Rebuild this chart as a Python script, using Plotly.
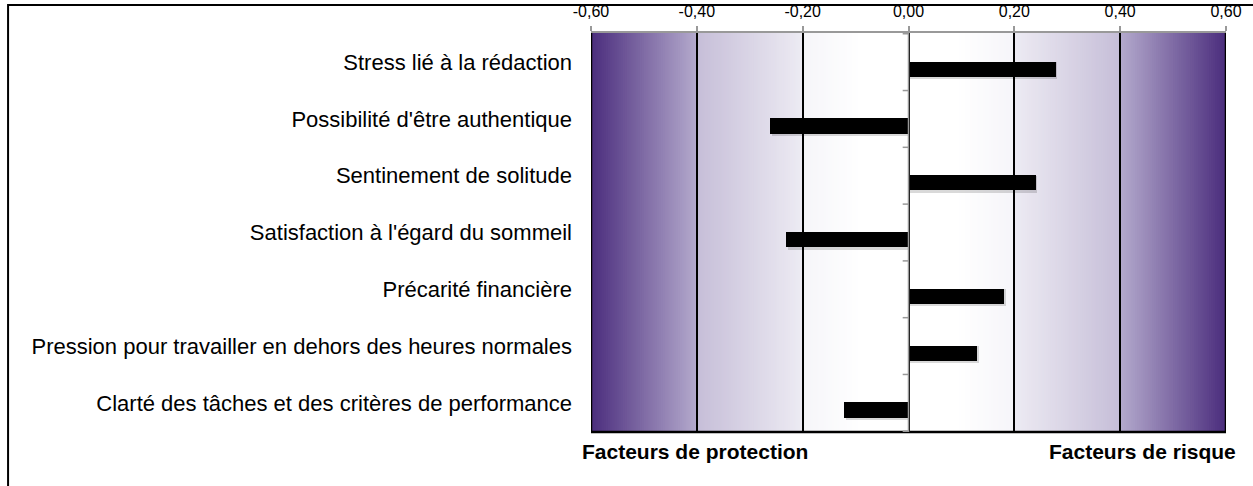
import plotly.graph_objects as go

categories = [
    "Stress lié à la rédaction",
    "Possibilité d'être authentique",
    "Sentinement de solitude",
    "Satisfaction à l'égard du sommeil",
    "Précarité financière",
    "Pression pour travailler en dehors des heures normales",
    "Clarté des tâches et des critères de performance",
]
values = [0.278, -0.261, 0.240, -0.231, 0.181, 0.130, -0.121]
tick_vals = [-0.6, -0.4, -0.2, 0.0, 0.2, 0.4, 0.6]
tick_text = [("%.2f" % v).replace(".", ",") for v in tick_vals]
left_label = "Facteurs de protection"
right_label = "Facteurs de risque"

FONT = "Liberation Sans"

fig = go.Figure()

# soft shadow under bars
fig.add_trace(go.Bar(
    y=categories, x=values, orientation="h",
    marker=dict(color="rgba(0,0,0,0.15)", line=dict(width=0)),
    width=0.30, offset=0.0, base=0.003, hoverinfo="skip", showlegend=False,
))
fig.add_trace(go.Bar(
    y=categories, x=values, orientation="h",
    marker=dict(color="black", line=dict(width=0)),
    width=0.27, offset=-0.01, showlegend=False,
))

# gradient background bands (each band has its own gradient, symmetric)
bands = [
    ((-0.6, -0.4), (75, 45, 125), (180, 170, 205)),
    ((-0.4, -0.2), (198, 190, 216), (237, 235, 243)),
    ((-0.2, 0.0), (246, 245, 249), (255, 255, 255)),
]
shapes = []
N = 50
for (a, b), c0, c1 in bands:
    for i in range(N):
        t = (i + 0.5) / N
        if a == -0.2:
            tt = min(1.0, t / 0.55)
        else:
            tt = t
        col = tuple(round(c0[k] + (c1[k] - c0[k]) * tt) for k in range(3))
        x0 = a + (b - a) * i / N
        x1 = min(b, a + (b - a) * (i + 1) / N + 0.004)
        color = "rgb(%d,%d,%d)" % col
        for sgn in (1, -1):
            xa, xb = sorted((sgn * x0, sgn * x1))
            shapes.append(dict(type="rect", xref="x", yref="paper",
                               x0=xa, x1=xb, y0=0, y1=1,
                               fillcolor=color, line=dict(width=0), layer="below"))

# plot edges
shapes.append(dict(type="line", xref="x", yref="paper", x0=-0.6, x1=-0.6, y0=0, y1=1,
                   line=dict(color="black", width=2.5)))
shapes.append(dict(type="line", xref="x", yref="paper", x0=0.6, x1=0.6, y0=0, y1=1,
                   line=dict(color="black", width=2.5)))
shapes.append(dict(type="line", xref="paper", yref="paper", x0=0, x1=1, y0=0, y1=0,
                   line=dict(color="black", width=2.5)))
# zero axis line with category separator ticks
shapes.append(dict(type="line", xref="x", yref="paper", x0=0, x1=0, y0=0, y1=1,
                   line=dict(color="#999999", width=1.5)))
for k in range(len(categories) + 1):
    shapes.append(dict(type="line", xref="x", yref="y", x0=-0.011, x1=0,
                       y0=k - 0.5, y1=k - 0.5, line=dict(color="#999999", width=1.5)))
# outer frame
shapes.append(dict(type="rect", xref="paper", yref="paper",
                   x0=-0.918, x1=1.2, y0=-0.3, y1=1.07,
                   line=dict(color="black", width=2), fillcolor="rgba(0,0,0,0)"))

fig.update_layout(
    width=1253, height=486,
    margin=dict(l=591, r=27, t=33, b=54),
    paper_bgcolor="white", plot_bgcolor="white",
    barmode="overlay",
    bargap=0,
    shapes=shapes,
    font=dict(family=FONT, color="black"),
    xaxis=dict(
        side="top", range=[-0.6, 0.6], tickvals=tick_vals, ticktext=tick_text,
        showgrid=True, gridcolor="black", gridwidth=1.5,
        zeroline=False, automargin=False,
        showline=True, linecolor="#999999", linewidth=2,
        ticks="outside", ticklen=5, tickcolor="#999999", tickwidth=1.5,
        ticklabelstandoff=3,
        tickfont=dict(size=16, family=FONT), fixedrange=True,
    ),
    yaxis=dict(
        categoryorder="array", categoryarray=categories,
        autorange="reversed", automargin=False,
        showgrid=False, zeroline=False, showline=False,
        ticks="", ticklabelstandoff=18,
        tickfont=dict(size=22, family=FONT), fixedrange=True,
    ),
    annotations=[
        dict(text="<b>%s</b>" % left_label, xref="paper", yref="paper",
             x=-0.017, y=-0.05, xanchor="left", yanchor="middle", showarrow=False,
             font=dict(size=21, family=FONT)),
        dict(text="<b>%s</b>" % right_label, xref="paper", yref="paper",
             x=1.019, y=-0.05, xanchor="right", yanchor="middle", showarrow=False,
             font=dict(size=21, family=FONT)),
    ],
)

fig.write_html("out.html", config={"displayModeBar": False},
               post_script="document.body.style.margin='0';document.body.style.padding='0';")
